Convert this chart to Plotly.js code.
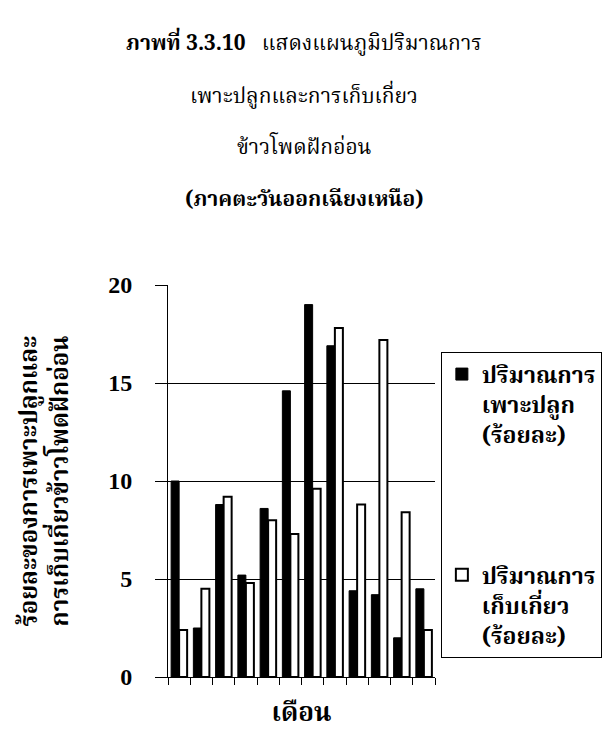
<!DOCTYPE html>
<html>
<head>
<meta charset="utf-8">
<script src="https://cdn.plot.ly/plotly-3.0.1.min.js"></script>
<style>html,body{margin:0;padding:0;background:#fff;}#chart{width:602px;height:735px;}</style>
</head>
<body>
<div id="chart"></div>
<script>
var months = ["ม.ค.","ก.พ.","มี.ค.","เม.ย.","พ.ค.","มิ.ย.","ก.ค.","ส.ค.","ก.ย.","ต.ค.","พ.ย.","ธ.ค."];
var planting = [10.0, 2.5, 8.8, 5.2, 8.6, 14.6, 19.0, 16.9, 4.4, 4.2, 2.0, 4.5];
var harvest  = [2.4, 4.5, 9.2, 4.8, 8.0, 7.3, 9.6, 17.8, 8.8, 17.2, 8.4, 2.4];
var nameP = "ปริมาณการ<br>เพาะปลูก<br>(ร้อยละ)";
var nameH = "ปริมาณการ<br>เก็บเกี่ยว<br>(ร้อยละ)";
var yTicks = [0, 5, 10, 15, 20];

var thaiFont = "'Noto Serif Thai', 'Noto Sans Thai', Norasi, 'TlwgTypo', 'Liberation Serif', serif";

var data = [
  {type: "bar", x: months, y: planting, name: nameP, legendgroup: "p",
   marker: {color: "#000", line: {color: "#000", width: 1}}},
  {type: "bar", x: months, y: harvest, name: nameH, legendgroup: "h",
   marker: {color: "#fff", line: {color: "#000", width: 2}}}
];

var layout = {
  width: 602, height: 735,
  paper_bgcolor: "#fff", plot_bgcolor: "#fff",
  margin: {l: 168, r: 167, t: 285, b: 58, autoexpand: false},
  barmode: "group", bargap: 0.28, bargroupgap: 0,
  showlegend: true,
  font: {family: thaiFont, color: "#000", size: 20},
  legend: {x: 1.022, xanchor: "left", y: 0.83, yanchor: "top",
           bordercolor: "#000", borderwidth: 1, bgcolor: "#fff",
           font: {family: thaiFont, size: 23, color: "#000", weight: "bold"},
           traceorder: "grouped", tracegroupgap: 108, itemwidth: 30, valign: "top"},
  xaxis: {showticklabels: false, ticks: "outside", tickson: "boundaries",
          ticklen: 7, tickcolor: "#000", tickwidth: 1,
          showline: true, linecolor: "#000", linewidth: 1, showgrid: false,
          title: {text: "<b>เดือน</b>", font: {family: thaiFont, size: 26}, standoff: 26}},
  yaxis: {range: [0, 20], tickvals: yTicks, ticks: "outside", ticklen: 12,
          ticklabelstandoff: 18,
          tickcolor: "#000", showline: true, linecolor: "#000", linewidth: 1,
          showgrid: true, gridcolor: "#000", gridwidth: 1, zeroline: false,
          tickfont: {family: "'Liberation Serif', serif", size: 24, weight: "bold"},
          title: {text: "<b>ร้อยละของการเพาะปลูกและ<br>การเก็บเกี่ยวข้าวโพดฝักอ่อน</b>",
                  font: {family: thaiFont, size: 24}, standoff: 32}},
  annotations: [
    {xref: "paper", yref: "paper", x: 0.51, y: 1.0, xanchor: "center", yanchor: "bottom",
     yshift: 222, showarrow: false, font: {size: 21},
     text: "<b>ภาพที่ 3.3.10</b>   แสดงแผนภูมิปริมาณการ"},
    {xref: "paper", yref: "paper", x: 0.51, y: 1.0, xanchor: "center", yanchor: "bottom",
     yshift: 169, showarrow: false, font: {size: 21},
     text: "เพาะปลูกและการเก็บเกี่ยว"},
    {xref: "paper", yref: "paper", x: 0.51, y: 1.0, xanchor: "center", yanchor: "bottom",
     yshift: 118, showarrow: false, font: {size: 21},
     text: "ข้าวโพดฝักอ่อน"},
    {xref: "paper", yref: "paper", x: 0.51, y: 1.0, xanchor: "center", yanchor: "bottom",
     yshift: 66, showarrow: false, font: {size: 21},
     text: "<b>(ภาคตะวันออกเฉียงเหนือ)</b>"}
  ]
};

Plotly.newPlot("chart", data, layout, {displayModeBar: false, staticPlot: true});
</script>
</body>
</html>
